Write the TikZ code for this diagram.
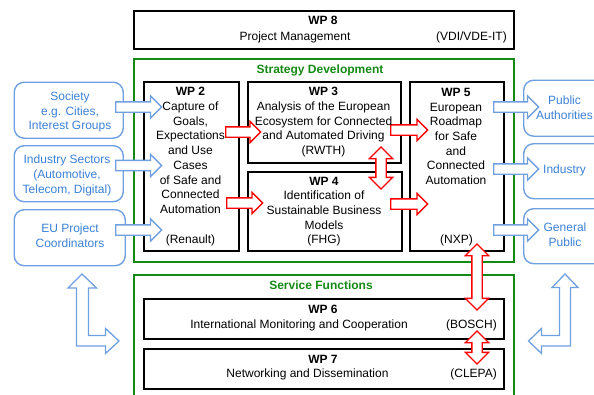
\documentclass[tikz,border=0pt]{standalone}
\usepackage{fontspec}
\setmainfont{Liberation Sans}
\usetikzlibrary{shapes.arrows}
\definecolor{grpgreen}{RGB}{20,138,20}
\definecolor{extblue}{RGB}{112,160,224}
\definecolor{exttext}{RGB}{58,128,214}
\definecolor{linkred}{RGB}{250,0,0}
\begin{document}
\begin{tikzpicture}[x=1pt,y=-1pt,
	font=\fontsize{12}{14.7}\selectfont,
	wpbox/.style={draw,line width=1.5pt,anchor=north west,inner sep=0pt},
	grpbox/.style={draw=grpgreen,line width=1.5pt,anchor=north west,inner sep=0pt},
	extbox/.style={draw=extblue,line width=1.4pt,rounded corners=10pt,anchor=north west,inner sep=0pt},
	lines/.style={align=center,inner sep=0pt,anchor=north},
	label/.style={inner sep=0pt,anchor=base},
	extarrow/.style={single arrow,draw=extblue,fill=white,line width=1.3pt,inner sep=4.5pt,
		single arrow head extend=6pt,minimum height=46pt,anchor=tail},
	redarrow/.style={single arrow,draw=linkred,fill=white,line width=1.3pt,inner sep=4.5pt,
		single arrow head extend=5.5pt,minimum height=36pt,anchor=tail},
	reddouble/.style={double arrow,draw=linkred,fill=white,line width=1.3pt,inner sep=4.5pt,
		double arrow head extend=6.5pt,shape border rotate=90}]
	\useasboundingbox (0,0) rectangle (594,394);
	\clip (0,0) rectangle (594,394);

	% frames
	\node[wpbox,minimum width=380pt,minimum height=38pt] (wp8) at (133,10) {};
	\node[grpbox,minimum width=380pt,minimum height=203pt] (strat) at (133,58) {};
	\node[grpbox,minimum width=380pt,minimum height=140pt] (serv) at (133,274) {};
	\node[wpbox,minimum width=95pt,minimum height=169pt] (wp2) at (143,81) {};
	\node[wpbox,minimum width=153pt,minimum height=81pt] (wp3) at (247,81) {};
	\node[wpbox,minimum width=154pt,minimum height=79pt] (wp4) at (247,171) {};
	\node[wpbox,minimum width=94pt,minimum height=169pt] (wp5) at (409,81) {};
	\node[wpbox,minimum width=360pt,minimum height=40pt] (wp6) at (143,298) {};
	\node[wpbox,minimum width=360pt,minimum height=40pt] (wp7) at (143,348) {};

	\node[extbox,minimum width=109pt,minimum height=56pt] (soc) at (13.5,81.5) {};
	\node[extbox,minimum width=109pt,minimum height=56pt] (ind) at (13.5,145) {};
	\node[extbox,minimum width=111pt,minimum height=56pt] (euc) at (13.5,209) {};
	\node[extbox,minimum width=100pt,minimum height=56pt] (pub) at (523,79.5) {};
	\node[extbox,minimum width=100pt,minimum height=55pt] (indr) at (523,143) {};
	\node[extbox,minimum width=100pt,minimum height=55pt] (gen) at (523,208) {};

	% arrows
	\node[extarrow] (soc-wp2) at (115,107) {};
	\node[extarrow] (ind-wp2) at (115,165.5) {};
	\node[extarrow] (euc-wp2) at (115,230) {};
	\node[extarrow,minimum height=45pt] (wp5-pub) at (493,107) {};
	\node[extarrow,minimum height=45pt] (wp5-indr) at (493,169) {};
	\node[extarrow,minimum height=45pt] (wp5-gen) at (493,230) {};

	\node[redarrow,minimum height=35pt] (wp2-wp3) at (225,132) {};
	\node[redarrow] (wp2-wp4) at (226,203) {};
	\node[redarrow,minimum height=37pt] (wp3-wp5) at (390,130) {};
	\node[redarrow,minimum height=37pt] (wp4-wp5) at (390,204) {};
	\node[reddouble,minimum height=42pt] (wp3-wp4) at (381,168) {};
	\node[reddouble,minimum height=66pt] (wp5-wp6) at (477,277) {};
	\node[reddouble,minimum height=33pt] (wp6-wp7) at (477,347.5) {};

	\draw[extblue,line width=1.3pt,fill=white] (82,274)--(96.5,288)--(88.5,288)--(88.5,335.5)--(105.5,335.5)--(105.5,328.5)
		--(119,341)--(105.5,353.5)--(105.5,346)--(76.5,346)--(76.5,288)--(68,288)--cycle;
	\draw[extblue,line width=1.3pt,fill=white] (565,274)--(578,287.5)--(570.5,287.5)--(570.5,346)--(541.5,346)--(541.5,353.5)
		--(528.5,341)--(541.5,328.5)--(541.5,335.5)--(559.5,335.5)--(559.5,287.5)--(552,287.5)--cycle;

	% texts
	\node[label] (wp8-t) at (323,24.6) {\textbf{WP 8}};
	\node[label] (wp8-n) at (295,40.3) {Project Management};
	\node[label,anchor=base east] (wp8-p) at (507,40.3) {(VDI/VDE-IT)};
	\node[label,text=grpgreen] (strat-t) at (320,73) {\textbf{Strategy Development}};
	\node[label,text=grpgreen] (serv-t) at (321,289.3) {\textbf{Service Functions}};

	\node[lines] (wp2-t) at (190.5,87.3) {\textbf{WP 2}\\Capture of\\Goals,\\Expectations\\and Use\\Cases\\of Safe and\\Connected\\Automation};
	\node[label] (wp2-p) at (190.5,243) {(Renault)};
	\node[lines] (wp3-t) at (323.5,87.3) {\textbf{WP 3}\\Analysis of the European\\Ecosystem for Connected\\and Automated Driving\\(RWTH)};
	\node[lines] (wp4-t) at (324,176.7) {\textbf{WP 4}\\Identification of\\Sustainable Business\\Models\\(FHG)};
	\node[lines] (wp5-t) at (456,88) {\textbf{WP 5}\\European\\Roadmap\\for Safe\\and\\Connected\\Automation};
	\node[label] (wp5-p) at (456.5,243) {(NXP)};

	\node[label] (wp6-t) at (323,313.6) {\textbf{WP 6}};
	\node[label] (wp6-n) at (299,328.6) {International Monitoring and Cooperation};
	\node[label,anchor=base east] (wp6-p) at (497,328.6) {(BOSCH)};
	\node[label] (wp7-t) at (323,363.6) {\textbf{WP 7}};
	\node[label] (wp7-n) at (307.5,377.6) {Networking and Dissemination};
	\node[label,anchor=base east] (wp7-p) at (497,377.6) {(CLEPA)};

	\node[lines,text=exttext] (soc-t) at (70,91.7) {Society\\e.g. Cities,\\Interest Groups};
	\node[lines,text=exttext] (ind-t) at (67,155) {Industry Sectors\\(Automotive,\\Telecom, Digital)};
	\node[lines,text=exttext] (euc-t) at (70,224) {EU Project\\Coordinators};
	\node[lines,text=exttext] (pub-t) at (564.5,96) {Public\\Authorities};
	\node[lines,text=exttext] (indr-t) at (564.5,165) {Industry};
	\node[lines,text=exttext] (gen-t) at (565,223) {General\\Public};
\end{tikzpicture}
\end{document}
